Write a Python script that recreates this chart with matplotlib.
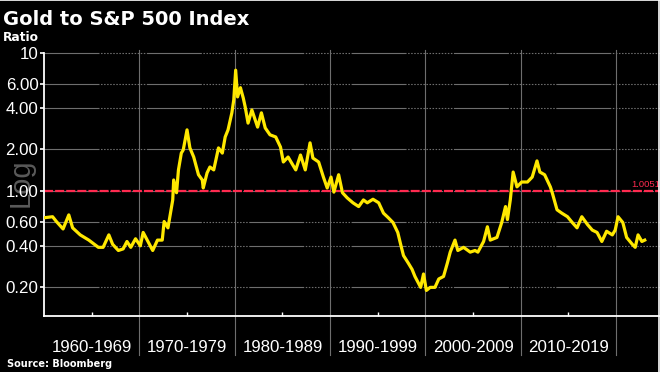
import matplotlib
matplotlib.use("Agg")
import matplotlib.pyplot as plt

# gold / S&P 500 ratio (year, ratio)
years = [1960.1, 1960.9, 1961.3, 1962.0, 1962.6, 1963.0, 1963.8, 1964.7, 1965.7, 1966.2,
         1966.8, 1967.2, 1967.8, 1968.3, 1968.7, 1969.1, 1969.6, 1970.1, 1970.4, 1971.4,
         1971.9, 1972.4, 1972.6, 1973.0, 1973.5, 1973.6, 1973.9, 1974.1, 1974.4, 1974.6,
         1975.0, 1975.3, 1975.7, 1976.2, 1976.6, 1976.7, 1977.1, 1977.4, 1977.8, 1978.3,
         1978.7, 1979.0, 1979.3, 1979.7, 1979.9, 1980.1, 1980.3, 1980.6, 1980.9, 1981.1,
         1981.4, 1981.8, 1982.4, 1982.8, 1983.2, 1983.7, 1984.3, 1984.8, 1985.1, 1985.6,
         1986.4, 1986.9, 1987.4, 1987.9, 1988.2, 1988.8, 1989.3, 1989.7, 1990.1, 1990.4,
         1990.9, 1991.3, 1991.8, 1992.4, 1993.0, 1993.5, 1993.9, 1994.5, 1995.1, 1995.6,
         1996.1, 1996.6, 1997.1, 1997.4, 1997.7, 1998.2, 1998.6, 1998.9, 1999.5, 1999.8,
         2000.1, 2000.5, 2001.0, 2001.4, 2001.9, 2002.3, 2002.6, 2003.1, 2003.4, 2004.0,
         2004.7, 2005.2, 2005.5, 2006.1, 2006.5, 2006.8, 2007.5, 2008.0, 2008.4, 2008.6,
         2008.9, 2009.2, 2009.6, 2010.1, 2010.7, 2011.2, 2011.7, 2012.0, 2012.5, 2013.1,
         2013.3, 2013.8, 2014.3, 2014.9, 2015.4, 2015.9, 2016.4, 2017.0, 2017.5, 2018.0,
         2018.5, 2019.0, 2019.6, 2019.9, 2020.2, 2020.7, 2021.1, 2021.7, 2022.0, 2022.3,
         2022.7, 2023.0]
ratio = [0.64, 0.65, 0.60, 0.53, 0.67, 0.54, 0.48, 0.44, 0.39, 0.39,
         0.48, 0.41, 0.37, 0.38, 0.43, 0.39, 0.45, 0.40, 0.50, 0.37,
         0.44, 0.44, 0.60, 0.54, 0.86, 1.20, 0.97, 1.42, 1.88, 1.98,
         2.77, 2.05, 1.76, 1.31, 1.20, 1.05, 1.35, 1.49, 1.42, 2.05,
         1.88, 2.46, 2.77, 3.68, 4.56, 7.50, 4.80, 5.60, 4.70, 4.06,
         3.10, 3.86, 2.90, 3.68, 2.86, 2.55, 2.46, 2.08, 1.62, 1.76,
         1.42, 1.82, 1.42, 2.23, 1.73, 1.62, 1.26, 1.05, 1.26, 0.98,
         1.31, 0.97, 0.89, 0.82, 0.77, 0.86, 0.82, 0.87, 0.82, 0.69,
         0.64, 0.59, 0.50, 0.41, 0.34, 0.30, 0.27, 0.24, 0.20, 0.25,
         0.19, 0.20, 0.20, 0.23, 0.24, 0.30, 0.36, 0.44, 0.37, 0.39,
         0.36, 0.37, 0.36, 0.43, 0.55, 0.44, 0.46, 0.59, 0.77, 0.62,
         0.86, 1.37, 1.07, 1.16, 1.16, 1.26, 1.65, 1.37, 1.31, 1.07,
         0.97, 0.73, 0.69, 0.65, 0.59, 0.54, 0.65, 0.57, 0.52, 0.50,
         0.43, 0.51, 0.48, 0.52, 0.65, 0.59, 0.46, 0.41, 0.39, 0.48,
         0.43, 0.44]

last_value = 1.0051
y_ticks = [0.2, 0.4, 0.6, 1, 2, 4, 6, 10]
y_labels = ["0.20", "0.40", "0.60", "1.00", "2.00", "4.00", "6.00", "10"]
decades = [1960, 1970, 1980, 1990, 2000, 2010, 2020]
decade_labels = ["1960-1969", "1970-1979", "1980-1989", "1990-1999",
                 "2000-2009", "2010-2019"]

plt.rcParams['lines.scale_dashes'] = False

fig = plt.figure(figsize=(6.6, 3.72), dpi=100, facecolor='black')
ax = fig.add_axes([44 / 660, 1 - 316 / 372, 1 - 44 / 660, (316 - 50) / 372])
ax.set_facecolor('black')

ax.set_yscale('log')
ax.set_xlim(1960, 2024.6)
ax.set_ylim(0.124, 10.5)

# grid: horizontal = long solid + dotted run, vertical = solid at decades
grid_dash = (0, tuple([39.6, 1.1] + [1.1, 1.1] * 16))
for v in y_ticks:
    ax.axhline(v, color='#6e6e6e', lw=0.8, ls=grid_dash, zorder=1)
for d in decades[1:]:
    ax.axvline(d, ymin=-0.147, ymax=1, color='#6e6e6e', lw=0.8,
               clip_on=False, zorder=1)

# reference line at the last value
ax.axhline(last_value, color='#ff2a4f', lw=1.6, ls=(0, (6.5, 1.5)), zorder=2)
ax.text(1, last_value * 1.02, "1.0051", transform=ax.get_yaxis_transform(),
        color='#ff2a4f', fontsize=6.8, family='Liberation Sans',
        ha='right', va='bottom')

ax.plot(years, ratio, color='#ffe800', lw=2.3, zorder=3,
        solid_joinstyle='round')

# spines
for s in ['top', 'right']:
    ax.spines[s].set_visible(False)
ax.spines['left'].set_color('white')
ax.spines['bottom'].set_color('white')
ax.spines['left'].set_linewidth(1.3)
ax.spines['bottom'].set_linewidth(1.3)
ax.spines['left'].set_bounds(0.124, 10)

ax.set_yticks(y_ticks)
ax.set_yticklabels(y_labels)
ax.yaxis.set_minor_locator(matplotlib.ticker.NullLocator())
ax.tick_params(axis='y', colors='white', length=3, width=1.2, pad=1,
               labelsize=12.2)

mids = [d + 5 for d in decades[:-1]]
ax.set_xticks(mids)
ax.set_xticklabels(decade_labels)
ax.tick_params(axis='x', colors='white', direction='in', length=3, width=1,
               pad=17, labelsize=12.2)
for lab in ax.get_xticklabels() + ax.get_yticklabels():
    lab.set_family('Liberation Sans')

# titles and notes
fig.text(3 / 660, 1 - 25 / 372, "Gold to S&P 500 Index", color='white',
         fontsize=14, fontweight='bold', family='DejaVu Sans', va='baseline')
fig.text(3 / 660, 1 - 41 / 372, "Ratio", color='white', fontsize=8.8,
         fontweight='bold', family='DejaVu Sans', va='baseline')
fig.text(7 / 660, 1 - 367 / 372, "Source: Bloomberg", color='white',
         fontsize=7, fontweight='bold', family='DejaVu Sans', va='baseline')
fig.text(21 / 660, 1 - 183 / 372, "Log", color='#5a5a5a', fontsize=21,
         family='Liberation Sans', rotation=90, ha='center', va='center',
         zorder=-1)

# thin white frame on top and right edge
fig.add_artist(plt.Line2D([0, 1], [0.999, 0.999], color='white', lw=1.2,
                          transform=fig.transFigure))
fig.add_artist(plt.Line2D([0.999, 0.999], [0, 1], color='white', lw=1.2,
                          transform=fig.transFigure))

fig.savefig('out.png', dpi=100, facecolor='black')
